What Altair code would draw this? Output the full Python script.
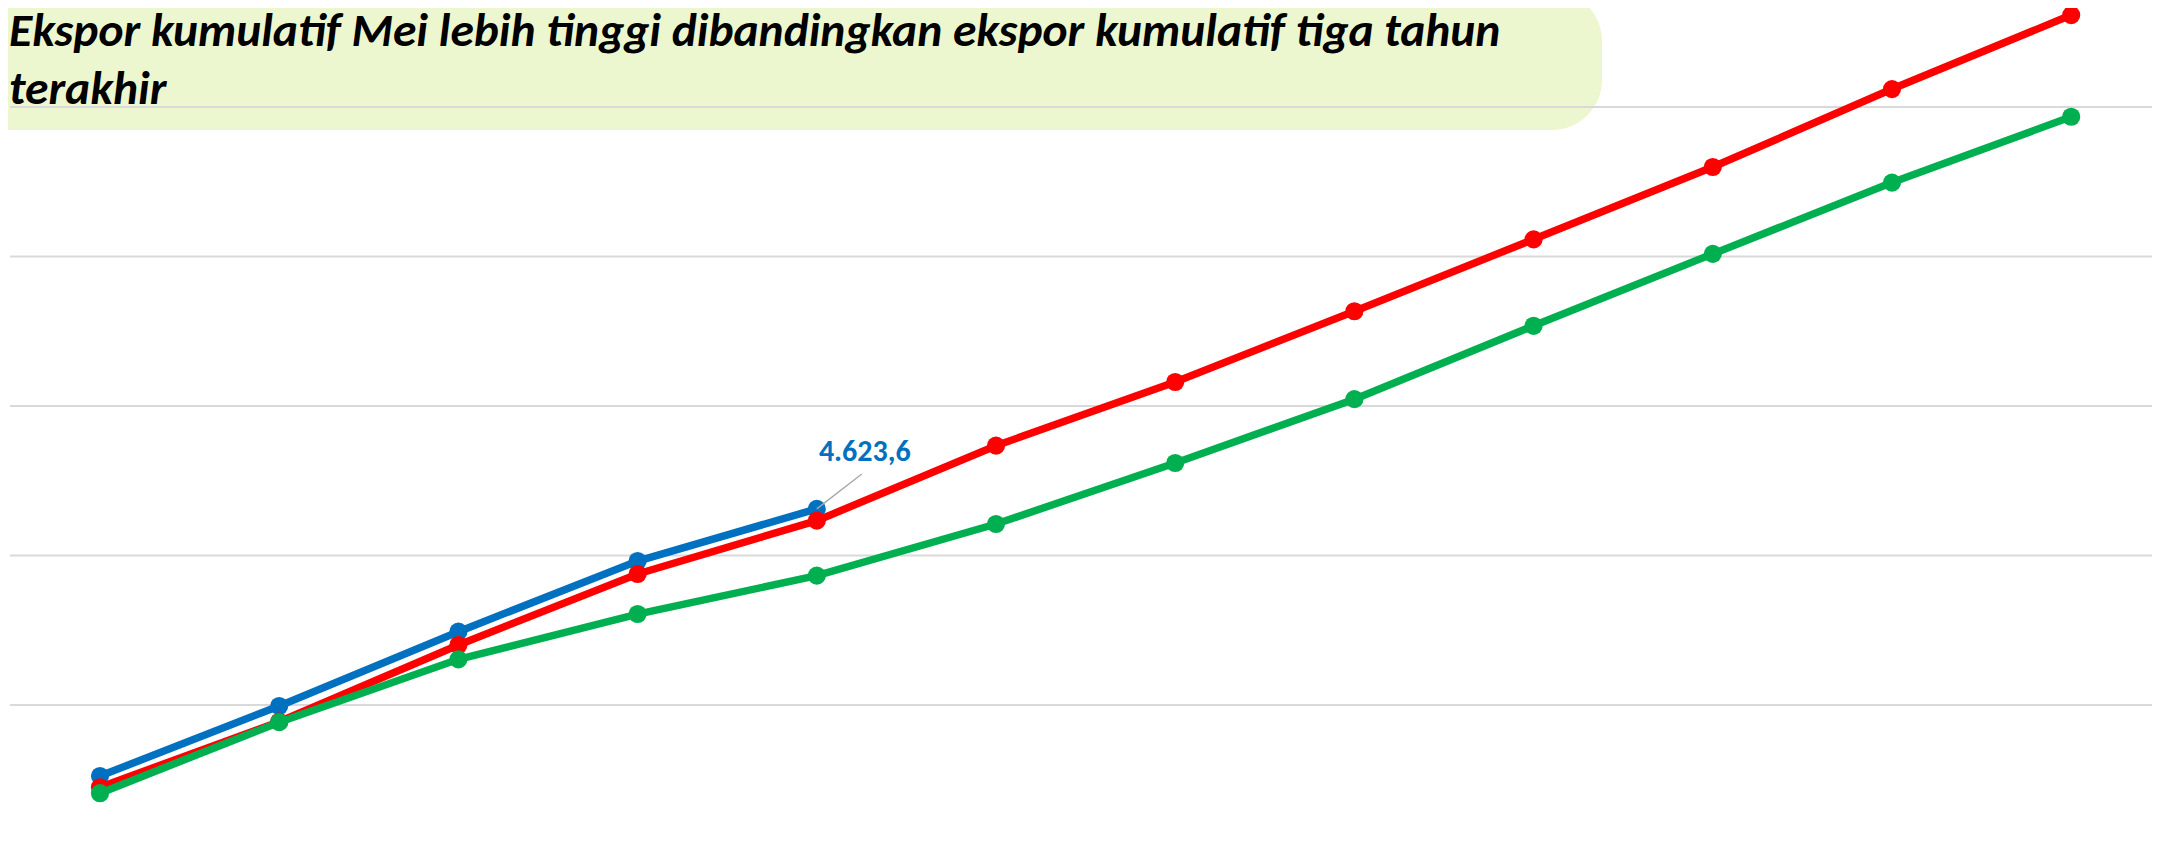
import altair as alt
import pandas as pd

# ---- data ----
months = ["Jan", "Feb", "Mar", "Apr", "Mei", "Jun", "Jul", "Agu", "Sep", "Okt", "Nov", "Des"]
series_names = ["2025", "2024", "2023"]
blue_vals = [1050, 1987, 2981, 3926, 4623.6]
red_vals = [900, 1777, 2803, 3753, 4466, 5469, 6321, 7268, 8230, 9197, 10240, 11230]
green_vals = [820, 1770, 2611, 3217, 3730, 4421, 5237, 6091, 7073, 8035, 8989, 9870]
series_colors = ["#0070C0", "#FF0000", "#00B050"]
grid_vals = [2000, 4000, 6000, 8000, 10000]
title_lines = [
    "Ekspor kumulatif Mei lebih tinggi dibandingkan ekspor kumulatif tiga tahun",
    "terakhir",
]
label_text = "4.623,6"

# ---- table ----
rows = []
for name, vals in zip(series_names, [blue_vals, red_vals, green_vals]):
    for i, v in enumerate(vals):
        rows.append({"series": name, "month": months[i], "idx": i + 1, "value": v})
df = pd.DataFrame(rows)

W, H = 2142, 820
FONT = "Carlito, Calibri, Lato, sans-serif"

xs = alt.Scale(domain=[0.4978, 12.4509], nice=False, zero=False)
ys = alt.Scale(domain=[354.5, 11324.4], nice=False, zero=False)

box = alt.Chart(pd.DataFrame({"a": [0]})).mark_rect(
    fill="#ECF7D0", cornerRadius=50
).encode(x=alt.value(-80), x2=alt.value(1592), y=alt.value(-17), y2=alt.value(122))

grid = alt.Chart(pd.DataFrame({"v": grid_vals})).mark_rule(
    color="#D9D9D9", strokeWidth=2
).encode(y=alt.Y("v:Q", scale=ys, axis=None), x=alt.value(0), x2=alt.value(W + 4))

layers = [box, grid]
label = None
for name, col in zip(series_names, series_colors):
    base = alt.Chart(df[df.series == name]).encode(
        x=alt.X("idx:Q", scale=xs, axis=None),
        y=alt.Y("value:Q", scale=ys, axis=None),
    )
    layers.append(base.mark_line(color=col, strokeWidth=7.5))
    layers.append(base.mark_circle(color=col, size=330, opacity=1))
    if name == series_names[0]:
        last = df[df.series == name].tail(1).assign(label=label_text)
        leader = alt.Chart(last).transform_calculate(
            lx="datum.idx + 0.251", ly="datum.value + 468"
        ).mark_rule(color="#A6A6A6", strokeWidth=1.3).encode(
            x=alt.X("idx:Q", scale=xs, axis=None),
            y=alt.Y("value:Q", scale=ys, axis=None),
            x2="lx:Q",
            y2="ly:Q",
        )
        label = alt.Chart(last).mark_text(
            align="center", baseline="alphabetic", dx=48, dy=-48,
            fontSize=30, fontWeight="bold", font=FONT, color="#0070C0",
        ).encode(
            x=alt.X("idx:Q", scale=xs, axis=None),
            y=alt.Y("value:Q", scale=ys, axis=None),
            text="label:N",
        )
        layers.append(leader)

layers.append(label)

title = alt.Chart(pd.DataFrame({"a": [0]})).mark_text(
    align="left", baseline="alphabetic", fontSize=47.5, fontStyle="italic",
    fontWeight="bold", font=FONT, lineHeight=58, color="#000000",
).encode(x=alt.value(-1), y=alt.value(38), text=alt.value(title_lines))
layers.append(title)

chart = alt.layer(*layers).properties(
    width=W, height=H,
    autosize=alt.AutoSizeParams(type="none"),
    padding={"left": 2, "top": 0, "right": 0, "bottom": 0},
    background="white",
).configure_view(stroke=None)

chart.save("out.html", embed_options={"renderer": "svg", "actions": False})
